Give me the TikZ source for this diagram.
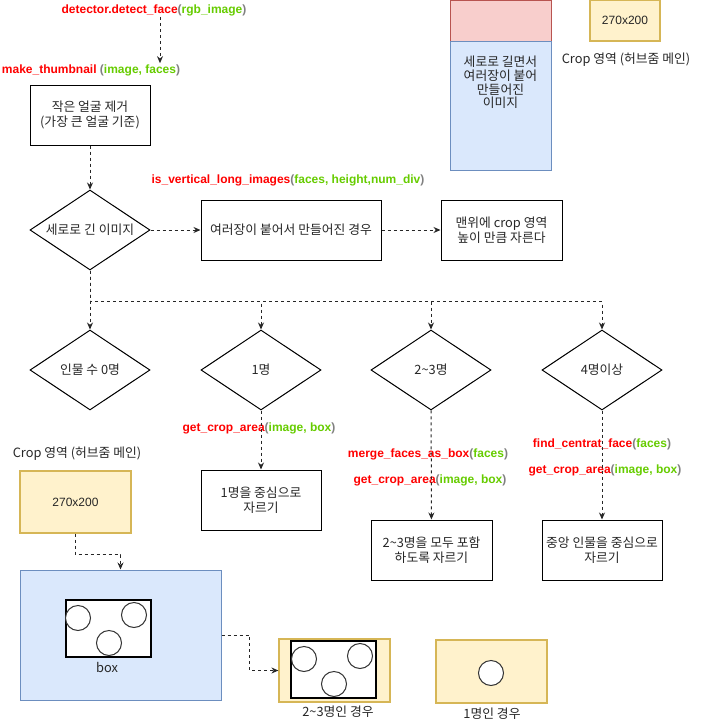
\documentclass[tikz,border=0pt]{standalone}
\usepackage{fontspec}
\setmainfont{Liberation Sans}
\newfontfamily\kr{Noto Sans CJK KR}
\usepackage{tikz}
\usetikzlibrary{arrows.meta}
\usetikzlibrary{shapes.geometric,calc,positioning}

\definecolor{fred}{HTML}{FF0000}
\definecolor{fgreen}{HTML}{66CC00}
\definecolor{fgray}{HTML}{808080}
\definecolor{yfill}{HTML}{FFF2CC}
\definecolor{ydraw}{HTML}{D6B656}
\definecolor{bfill}{HTML}{DAE8FC}
\definecolor{bdraw}{HTML}{6C8EBF}
\definecolor{rfill}{HTML}{F8CECC}
\definecolor{rdraw}{HTML}{B85450}

\newcommand{\fncall}[3]{\textcolor{fred}{#1}#2\textcolor{fgray}{(}\textcolor{fgreen}{#3}\textcolor{fgray}{)}}

\tikzset{
  procbox/.style={rectangle,draw,line width=1pt,minimum height=60pt,inner sep=2pt,
    align=center,text=black!85,font=\kr\fontsize{12.8}{14.5}\selectfont},
  decide/.style={diamond,draw,line width=1pt,aspect=1.5,minimum width=120pt,
    minimum height=80pt,inner sep=0pt,text=black!85,font=\kr\fontsize{12.8}{14.5}\selectfont},
  fnlabel/.style={inner sep=1pt,font=\bfseries\fontsize{12}{14}\selectfont},
  plain/.style={inner sep=1pt,text=black!85,font=\kr\fontsize{12.8}{13.7}\selectfont},
  flow/.style={draw=black!85,line width=1pt,dash pattern=on 3pt off 3pt,
    -{Stealth[length=7pt,width=6pt]}},
  cropbox/.style={rectangle,draw=ydraw,fill=yfill,line width=1.2pt,inner sep=0pt,
    font=\fontsize{12}{14}\selectfont,text=black!85},
  imgbox/.style={rectangle,draw=bdraw,fill=bfill,line width=1pt,inner sep=0pt},
  facebox/.style={rectangle,draw,fill=white,line width=1.3pt,minimum width=85pt,
    minimum height=57pt,inner sep=0pt},
  face/.style={circle,draw=black!80,fill=white,line width=1pt,minimum size=25pt,inner sep=0pt}
}

\begin{document}
\begin{tikzpicture}[x=1pt,y=-1pt]
\useasboundingbox (0,0) rectangle (711,726);

% function labels
\node[fnlabel] (det) at (154,10) {\fncall{detector.detect\_face}{}{rgb\_image}};
\node[fnlabel] (mt) at (91,70) {\fncall{make\_thumbnail}{ }{image, faces}};
\node[fnlabel] (ivl) at (288,180) {\fncall{is\_vertical\_long\_images}{}{faces, height,num\_div}};
\node[fnlabel] (gca1) at (259,428) {\fncall{get\_crop\_area}{}{image, box}};
\node[fnlabel] (mfb) at (428,454) {\fncall{merge\_faces\_as\_box}{}{faces}};
\node[fnlabel] (gca2) at (430,480) {\fncall{get\_crop\_area}{}{image, box}};
\node[fnlabel] (fcf) at (602,444) {\fncall{find\_centrat\_face}{}{faces}};
\node[fnlabel] (gca3) at (605,470) {\fncall{get\_crop\_area}{}{image, box}};

% main flow
\node[procbox,minimum width=120pt] (small) at (90,115) {작은 얼굴 제거\\(가장 큰 얼굴 기준)};
\node[decide] (d0) at (90,230) {세로로 긴 이미지};
\node[procbox,minimum width=180pt] (multi) at (291,230) {여러장이 붙어서 만들어진 경우};
\node[procbox,minimum width=121pt] (cuttop) at (501.5,230) {맨위에 crop 영역\\높이 만큼 자른다};

\node[decide] (dz) at (90,370) {인물 수 0명};
\node[decide] (d1) at (261,370) {1명};
\node[decide] (d2) at (431,370) {2\textasciitilde3명};
\node[decide] (d3) at (602,370) {4명이상};

\node[procbox,minimum width=120pt] (c1) at (261,500) {1명을 중심으로\\자르기};
\node[procbox,minimum width=121pt] (c2) at (431.5,550) {2\textasciitilde3명을 모두 포함\\하도록 자르기};
\node[procbox,minimum width=120pt] (c3) at (602,550) {중앙 인물을 중심으로\\자르기};

% top right legend
\node[rectangle,draw=rdraw,fill=rfill,line width=1pt,minimum width=101pt,minimum height=41pt] (tallhead) at (500.5,20.5) {};
\node[imgbox,minimum width=101pt,minimum height=129pt] (tallbody) at (500.5,105.5) {};
\node[plain,align=center] (talltxt) at (500.5,82.5) {세로로 길면서\\여러장이 붙어\\만들어진\\이미지};
\node[cropbox,minimum width=70pt,minimum height=41pt] (legA) at (625,20.5) {270x200};
\node[plain] (legAtxt) at (626,60) {Crop 영역 (허브줌 메인)};

% bottom left crop example
\node[plain] (cropTxt) at (77,454) {Crop 영역 (허브줌 메인)};
\node[cropbox,minimum width=111pt,minimum height=62pt] (legB) at (75.5,502) {270x200};
\node[imgbox,minimum width=201pt,minimum height=130pt] (big) at (120.5,635) {};
\node[facebox] (fb) at (108.5,628.5) {};
\node[face] (fa1) at (78,618) {};
\node[face] (fa2) at (134,615) {};
\node[face] (fa3) at (109,643) {};
\node[plain] (boxTxt) at (107,667) {box};

\node[cropbox,minimum width=111pt,minimum height=63pt] (res2) at (334.5,670.5) {};
\node[facebox] (fb2) at (333.5,669.5) {};
\node[face] (fb2a) at (304,659) {};
\node[face] (fb2b) at (360,656) {};
\node[face] (fb2c) at (334,684) {};
\node[plain] (res2txt) at (338,712) {2\textasciitilde3명인 경우};

\node[cropbox,minimum width=111pt,minimum height=63pt] (res1) at (491.5,671.5) {};
\node[face] (fc1) at (491,673) {};
\node[plain] (res1txt) at (492,714) {1명인 경우};

% connectors
\path ([xshift=6pt]det.south) edge[flow] ([xshift=6pt]det.south |- mt.north);
\path (small) edge[flow] (d0);
\path (d0) edge[flow] (multi);
\path (multi) edge[flow] (cuttop);
\path (d0) edge[flow] (dz);
\draw[flow] (d0.south) -- ++(0,31) -| (d1.north);
\draw[flow] (d0.south) -- ++(0,31) -| (d2.north);
\draw[flow] (d0.south) -- ++(0,31) -| (d3.north);
\path (d1) edge[flow] (c1);
\path (d2) edge[flow] (c2);
\path (d3) edge[flow] (c3);
\draw[flow] (legB.south) -- ++(0,21) -| (big.north);
\draw[flow] (big.east) -- ++(28,0) |- (res2.west);
\end{tikzpicture}
\end{document}
